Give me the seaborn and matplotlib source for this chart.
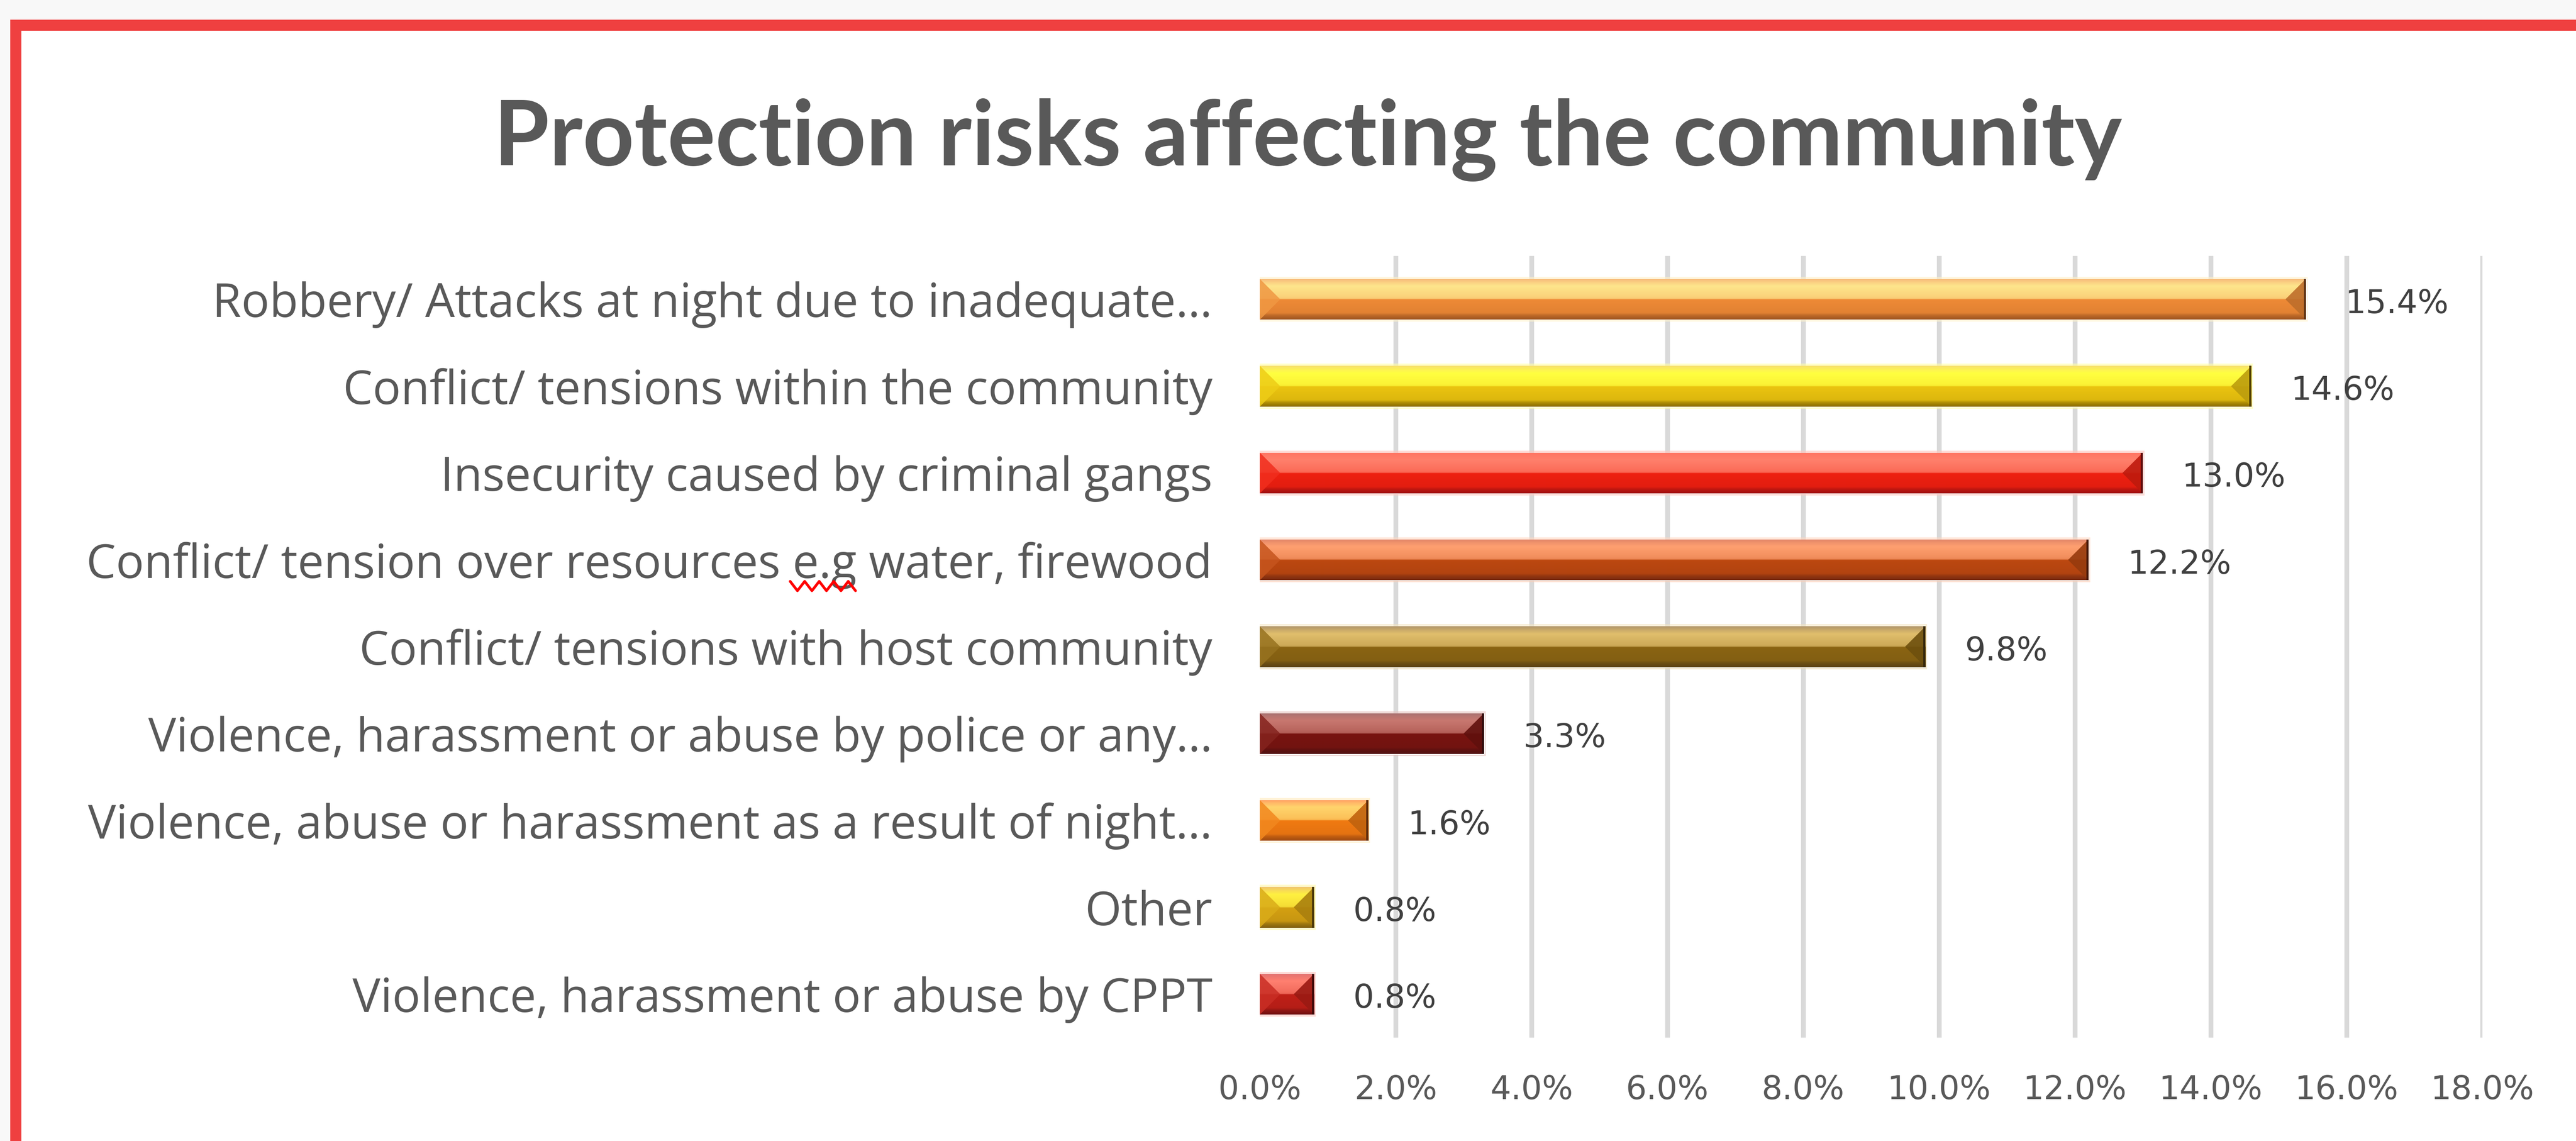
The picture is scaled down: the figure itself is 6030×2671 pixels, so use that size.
import numpy as np
import pandas as pd
import matplotlib
matplotlib.use("Agg")
import matplotlib.pyplot as plt
import seaborn as sns
from matplotlib.colors import to_rgb, LinearSegmentedColormap
from matplotlib.patches import Rectangle, Polygon
from matplotlib.lines import Line2D
from matplotlib.ticker import FuncFormatter

# ---- data -------------------------------------------------------------
categories = [
    "Robbery/ Attacks at night due to inadequate\u2026",
    "Conflict/ tensions within the community",
    "Insecurity caused by criminal gangs",
    "Conflict/ tension over resources e.g water, firewood",
    "Conflict/ tensions with host community",
    "Violence, harassment or abuse by police or any\u2026",
    "Violence, abuse or harassment as a result of night\u2026",
    "Other",
    "Violence, harassment or abuse by CPPT",
]
shares = [15.4, 14.6, 13.0, 12.2, 9.8, 3.3, 1.6, 0.8, 0.8]
x_ticks = [0, 2, 4, 6, 8, 10, 12, 14, 16, 18]
title = "Protection risks affecting the community"

# ---- bar shading (top rim, highlight, lower face, bottom rim) --------
rim_colors = ["#F7B778", "#F8E070", "#FF7462", "#E08468", "#B09468",
              "#A87272", "#FFA064", "#F0C470", "#E07070"]
highlight_colors = ["#FEE58C", "#FFFF40", "#FF806C", "#FFA070", "#E0BE6C",
                    "#C87870", "#FFD46C", "#FFF040", "#FF8070"]
face_colors = ["#EE8A36", "#EBC410", "#EE2010", "#BC4810", "#8A6412",
               "#781410", "#F07A12", "#D4A012", "#C02018"]
shadow_colors = ["#9E5520", "#8A6C00", "#A01010", "#782A10", "#5A4214",
                 "#501010", "#A04A10", "#806010", "#701010"]

TEXT_GREY = "#595959"

sns.set_theme(style="white")
plt.rcParams["font.family"] = ["DejaVu Sans"]

W, H, DPI = 6030, 2671, 100
fig = plt.figure(figsize=(W / DPI, H / DPI), dpi=DPI, facecolor="#F8F8F8")

# red frame around the chart area
fig.add_artist(Rectangle((24 / W, -0.05), 1.1, 1.05 - 46 / H,
                         transform=fig.transFigure, facecolor="#EF4040",
                         edgecolor="none", zorder=0))
fig.add_artist(Rectangle((50 / W, -0.05), 1.1, 1.05 - 72 / H,
                         transform=fig.transFigure, facecolor="white",
                         edgecolor="none", zorder=0))

ax = fig.add_axes([2949 / W, 1 - 2429 / H, (5811 - 2949) / W, (2429 - 599) / H])
ax.set_facecolor("none")

df = pd.DataFrame({"risk": categories, "share": shares})
sns.barplot(data=df, x="share", y="risk", hue="risk", palette=face_colors,
            orient="h", width=0.47, saturation=1, legend=False, ax=ax,
            zorder=2)

ax.set_xlim(0, 18)
ax.set_ylim(len(categories) - 0.5, -0.5)
ax.set_autoscale_on(False)


def mix(c1, c2, f):
    a, b = np.array(to_rgb(c1)), np.array(to_rgb(c2))
    return tuple(a * (1 - f) + b * f)


px_x = ax.transData.transform((1, 0))[0] - ax.transData.transform((0, 0))[0]
px_y = abs(ax.transData.transform((0, 1))[1] - ax.transData.transform((0, 0))[1])

bars = [p for p in ax.patches if isinstance(p, Rectangle)]
for i, bar in enumerate(bars):
    x0, yb = bar.get_xy()
    w, h = bar.get_width(), bar.get_height()
    x1 = x0 + w
    rim, hi, face, shade = (rim_colors[i], highlight_colors[i],
                            face_colors[i], shadow_colors[i])

    # soft glow just outside the bar
    ext = 5 / px_y
    ax.add_patch(Rectangle((x0, yb - ext), w + 4 / px_x, h + 2 * ext,
                           facecolor=mix(hi, "white", 0.55), alpha=0.6,
                           edgecolor="none", zorder=1.5))

    # vertical bevel gradient
    stops = [(0.0, rim), (0.08, mix(rim, hi, 0.5)), (0.18, hi),
             (0.44, mix(hi, face, 0.2)), (0.49, mix(hi, face, 0.3)),
             (0.51, face), (0.84, mix(face, shade, 0.15)),
             (0.90, mix(face, shade, 0.6)), (1.0, shade)]
    cmap = LinearSegmentedColormap.from_list(f"bev{i}", stops)
    grad = cmap(np.linspace(0, 1, 200))[:, :3].reshape(200, 1, 3)
    im = ax.imshow(grad, extent=(x0, x1, yb + h, yb), origin="upper",
                   aspect="auto", interpolation="bilinear", zorder=3)
    im.set_clip_path(bar)

    # end facets
    d = min(0.5 * h * px_y / px_x, w / 2)
    ax.add_patch(Polygon([(x0, yb), (x0 + d, yb + 0.5 * h), (x0, yb + h)],
                         closed=True, facecolor=mix(face, hi, 0.15),
                         edgecolor="none", alpha=0.85, zorder=4))
    ax.add_patch(Polygon([(x1, yb), (x1 - d, yb + 0.5 * h), (x1, yb + h)],
                         closed=True, facecolor=mix(face, "black", 0.2),
                         edgecolor="none", alpha=0.9, zorder=4))
    ax.add_patch(Rectangle((x1 - 5 / px_x, yb), 5 / px_x, h,
                           facecolor=mix(shade, "black", 0.4),
                           edgecolor="none", zorder=5))

# value labels
for i, v in enumerate(shares):
    ax.annotate(f"{v:.1f}%", xy=(v, i), xytext=(66, -8),
                textcoords="offset points", ha="left", va="center",
                fontsize=55, color="#404040", family="DejaVu Sans")

# axes styling
ax.set_xticks(x_ticks)
ax.xaxis.set_major_formatter(FuncFormatter(lambda x, _: f"{x:.1f}%"))
ax.xaxis.grid(True, color="#D9D9D9", linewidth=8)
ax.yaxis.grid(False)
ax.set_axisbelow(True)
ax.get_xgridlines()[0].set_visible(False)
for s in ax.spines.values():
    s.set_visible(False)
ax.set_xlabel("")
ax.set_ylabel("")
ax.tick_params(axis="x", length=0, pad=62, labelsize=55, labelcolor=TEXT_GREY)
ax.tick_params(axis="y", length=0, pad=80, labelsize=79, labelcolor=TEXT_GREY)
for lab in ax.get_yticklabels():
    lab.set_family("Open Sans")
for lab in ax.get_xticklabels():
    lab.set_family("DejaVu Sans")

fig.text(3062 / W, 1 - 387 / H, title, ha="center", va="baseline",
         fontsize=151, fontweight="bold", family="Lato", color=TEXT_GREY)

# red spell-check squiggle under "e.g"
fig.canvas.draw()
renderer = fig.canvas.get_renderer()
lab = ax.get_yticklabels()[3]
txt = lab.get_text()
k = txt.index("e.g")
fp = lab.get_fontproperties()
bb = lab.get_window_extent(renderer)
w_upto, _, _ = renderer.get_text_width_height_descent(txt[:k + 3], fp, ismath=False)
w_eg, _, _ = renderer.get_text_width_height_descent("e.g", fp, ismath=False)
_, _, desc = renderer.get_text_width_height_descent("lp", fp, ismath=False)
_, _, desc2 = renderer.get_text_width_height_descent(txt, fp, ismath=False)
base = bb.y0 + max(desc, desc2)
sx0 = bb.x0 + w_upto - w_eg - 6
sx1 = bb.x0 + w_upto + 8
xs = np.arange(sx0, sx1, 17)
ys = np.where(np.arange(len(xs)) % 2 == 0, base - 8, base - 30)
pts = fig.transFigure.inverted().transform(np.column_stack([xs, ys]))
fig.add_artist(Line2D(pts[:, 0], pts[:, 1], transform=fig.transFigure,
                      color="#FF0000", linewidth=4.5, zorder=10))

fig.savefig("out.png", dpi=DPI, facecolor=fig.get_facecolor())
